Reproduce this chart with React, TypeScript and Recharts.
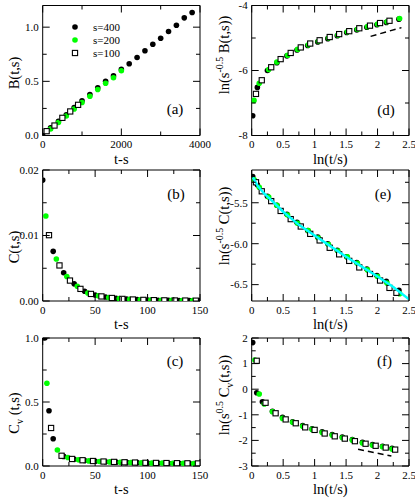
import React from 'react';
import { ComposedChart, Scatter, XAxis, YAxis, ReferenceArea, Legend } from 'recharts';

const FONT = '"Liberation Serif", "Times New Roman", serif';
const PAGE_W = 415;
const PAGE_H = 501;
const GREEN = '#00ff00';
const CYAN = '#00ffff';
const MAJOR = 7;
const MINOR = 4;

// ---------------- legend ----------------
const seriesLabels = ['s=400', 's=200', 's=100'];

// ---------------- panel (a): B(t,s) vs t-s ----------------
const aBlackX = [0, 200, 400, 600, 800, 1000, 1200, 1400, 1600, 1800, 2000, 2200, 2400, 2600, 2800, 3000, 3200, 3400, 3600, 3800];
const aBlackY = [0, 0.07, 0.13, 0.19, 0.258, 0.32, 0.378, 0.44, 0.5, 0.55, 0.61, 0.662, 0.72, 0.782, 0.843, 0.898, 0.96, 1.018, 1.086, 1.136];
const aGreenX = [200, 400, 600, 800, 1000, 1200, 1400, 1600, 1800, 2000];
const aGreenY = [0.06, 0.12, 0.18, 0.245, 0.305, 0.363, 0.425, 0.483, 0.533, 0.597];
const aSquareX = [100, 300, 500, 700, 900];
const aSquareY = [0.04, 0.092, 0.163, 0.222, 0.283];
const aXMajor = [0, 2000, 4000];
const aXMinor = [1000, 3000];
const aYMajor = [0, 0.5, 1.0];
const aYMinor = [0.25, 0.75];

// ---------------- panel (b): C(t,s) vs t-s ----------------
const bBlackX = [0, 10, 20, 30, 40, 50, 60, 70, 80, 90, 100, 110, 120, 130, 140, 150];
const bBlackY = [0.01846, 0.00758, 0.00431, 0.00262, 0.0015, 0.00092, 0.0006, 0.0004, 0.00029, 0.00021, 0.00016, 0.00012, 0.0001, 0.00008, 0.00007, 0.00006];
const bGreenX = [3, 13, 23, 33, 43, 53, 63, 73, 83, 93, 103, 113, 123, 133, 143];
const bGreenY = [0.01297, 0.00641, 0.00374, 0.00226, 0.00123, 0.0008, 0.00052, 0.00036, 0.00026, 0.00019, 0.00014, 0.00011, 0.00009, 0.00007, 0.00006];
const bSquareX = [6, 16, 26, 36, 46, 56, 66, 76, 86, 96, 106, 116, 126, 136, 146];
const bSquareY = [0.01005, 0.00543, 0.00312, 0.00185, 0.00108, 0.0007, 0.00046, 0.00032, 0.00023, 0.00017, 0.00013, 0.0001, 0.00008, 0.00007, 0.00005];
const tsXMajor = [0, 50, 100, 150];
const tsXMinor = [25, 75, 125];
const bYMajor = [0, 0.01, 0.02];
const bYMinor = [0.005, 0.015];

// ---------------- panel (c): Cv(t,s) vs t-s ----------------
const cBlackX = [2, 6, 10, 20, 30, 40, 50, 60, 70, 80, 90, 100, 110, 120, 130, 140, 150];
const cBlackY = [1.0, 0.432, 0.213, 0.075, 0.052, 0.043, 0.037, 0.033, 0.03, 0.028, 0.026, 0.024, 0.023, 0.022, 0.021, 0.02, 0.019];
const cGreenX = [4, 14, 24, 34, 44, 54, 64, 74, 84, 94, 104, 114, 124, 134, 144];
const cGreenY = [0.646, 0.125, 0.066, 0.048, 0.04, 0.035, 0.032, 0.029, 0.027, 0.025, 0.024, 0.023, 0.022, 0.021, 0.02];
const cSquareX = [8, 18, 28, 38, 48, 58, 68, 78, 88, 98, 108, 118, 128, 138, 148];
const cSquareY = [0.297, 0.08, 0.055, 0.045, 0.039, 0.035, 0.032, 0.029, 0.027, 0.025, 0.024, 0.023, 0.022, 0.021, 0.02];
const cYMajor = [0, 0.5, 1.0];
const cYMinor = [0.25, 0.75];

// ---------------- right column x axis: ln(t/s) ----------------
const lnXMajor = [0, 0.5, 1, 1.5, 2, 2.5];
const lnXMinor = [0.25, 0.75, 1.25, 1.75, 2.25];

// ---------------- panel (d) ----------------
const dBlackX = [0.016, 0.09, 0.25, 0.4, 0.56, 0.72, 0.89, 1.05, 1.21, 1.36, 1.51, 1.67, 1.83, 1.99, 2.14, 2.34];
const dBlackY = [-7.39, -6.52, -6.0, -5.76, -5.55, -5.37, -5.23, -5.12, -5.02, -4.93, -4.83, -4.75, -4.67, -4.59, -4.52, -4.42];
const dGreenX = [0.037, 0.12, 0.27, 0.4, 0.57, 0.73, 0.9, 1.06, 1.22, 1.37, 1.52, 1.68, 1.84, 2.0, 2.15, 2.35];
const dGreenY = [-6.92, -6.39, -5.97, -5.74, -5.53, -5.35, -5.21, -5.1, -5.0, -4.91, -4.81, -4.73, -4.65, -4.57, -4.5, -4.4];
const dSquareX = [0.068, 0.16, 0.31, 0.46, 0.62, 0.78, 0.93, 1.08, 1.24, 1.39, 1.55, 1.71, 1.88, 2.04, 2.19];
const dSquareY = [-6.72, -6.3, -5.9, -5.65, -5.46, -5.29, -5.17, -5.07, -4.97, -4.88, -4.79, -4.7, -4.62, -4.54, -4.47];
const dDashX = [1.89, 2.38];
const dDashY = [-4.95, -4.68];
const dYMajor = [-8, -6, -4];
const dYMinor = [-7, -5];

// ---------------- panel (e) ----------------
const eBlackX = [0.016, 0.09, 0.25, 0.4, 0.56, 0.72, 0.89, 1.05, 1.21, 1.36, 1.51, 1.67, 1.83, 1.99, 2.14, 2.34];
const eBlackY = [-5.18, -5.28, -5.42, -5.53, -5.64, -5.74, -5.84, -5.92, -6.0, -6.08, -6.16, -6.23, -6.31, -6.39, -6.46, -6.57];
const eGreenX = [0.04, 0.12, 0.27, 0.4, 0.57, 0.73, 0.9, 1.06, 1.22, 1.37, 1.52, 1.68, 1.84, 2.0, 2.15, 2.35];
const eGreenY = [-5.22, -5.31, -5.43, -5.53, -5.65, -5.75, -5.84, -5.93, -6.01, -6.09, -6.16, -6.24, -6.32, -6.4, -6.48, -6.61];
const eSquareX = [0.068, 0.16, 0.31, 0.46, 0.62, 0.78, 0.93, 1.08, 1.24, 1.39, 1.55, 1.71, 1.88, 2.04, 2.19, 2.3];
const eSquareY = [-5.25, -5.36, -5.48, -5.6, -5.7, -5.79, -5.88, -5.96, -6.05, -6.13, -6.21, -6.29, -6.37, -6.45, -6.54, -6.6];
const eFitX = [0.02, 0.1, 0.2, 0.3, 0.5, 0.75, 1.0, 1.25, 1.5, 1.75, 2.0, 2.25, 2.5];
const eFitY = [-5.19, -5.3, -5.39, -5.46, -5.61, -5.77, -5.9, -6.03, -6.16, -6.28, -6.4, -6.53, -6.68];
const eYMajor = [-6.5, -6.0, -5.5];
const eYMinor = [-6.25, -5.75, -5.25];

// ---------------- panel (f) ----------------
const fBlackX = [0.016, 0.08, 0.17, 0.33, 0.49, 0.65, 0.81, 0.96, 1.12, 1.28, 1.44, 1.6, 1.76, 1.92, 2.08, 2.23];
const fBlackY = [1.82, -0.14, -0.49, -0.86, -1.1, -1.27, -1.42, -1.55, -1.66, -1.77, -1.87, -1.97, -2.07, -2.16, -2.23, -2.31];
const fGreenX = [0.05, 0.12, 0.2, 0.33, 0.49, 0.65, 0.81, 0.96, 1.12, 1.28, 1.44, 1.6, 1.76, 1.92, 2.08, 2.23];
const fGreenY = [1.14, -0.19, -0.58, -0.88, -1.14, -1.29, -1.45, -1.57, -1.69, -1.8, -1.9, -1.99, -2.1, -2.19, -2.25, -2.34];
const fSquareX = [0.08, 0.22, 0.38, 0.54, 0.7, 0.85, 1.0, 1.16, 1.32, 1.48, 1.64, 1.81, 1.97, 2.13, 2.28];
const fSquareY = [1.11, -0.53, -0.94, -1.18, -1.33, -1.49, -1.59, -1.73, -1.84, -1.93, -2.03, -2.13, -2.21, -2.28, -2.36];
const fDashX = [1.69, 2.22];
const fDashY = [-2.35, -2.61];
const fYMajor = [-3, -2, -1, 0, 1, 2];
const fYMinor = [-2.5, -1.5, -0.5, 0.5, 1.5];

const pts = (xs: number[], ys: number[]) => xs.map((x, i) => ({ x, y: ys[i] }));

// ---------------- layout ----------------
type Rect = { l: number; t: number; r: number; b: number };
const COL_L = [42.7, 251.7];
const COL_R = [200, 409];
const ROW_T = [5.5, 170, 338];
const ROW_B = [135.5, 301, 466];
const rectOf = (col: number, row: number): Rect => ({ l: COL_L[col], r: COL_R[col], t: ROW_T[row], b: ROW_B[row] });
const AX = 1; // tiny axis thickness (axes with 0 size are not drawn)

const isIn = (arr: number[], v: number) => arr.some((m) => Math.abs(m - v) < 1e-9);

const BlackDot = (p: any) => <circle cx={p.cx} cy={p.cy} r={2.8} fill="#000" />;
const GreenDot = (p: any) => <circle cx={p.cx} cy={p.cy} r={2.8} fill={GREEN} />;
const OpenSquare = (p: any) => (
  <rect x={p.cx - 2.6} y={p.cy - 2.6} width={5.2} height={5.2} fill="#fff" stroke="#000" strokeWidth={1.1} />
);
const NoShape = () => <g />;

function makeXTick(rect: Rect, major: number[], fmt: (v: number) => string) {
  return (props: any) => {
    const { x, payload } = props;
    const v = payload.value;
    const mj = isIn(major, v);
    const len = mj ? MAJOR : MINOR;
    return (
      <g>
        <line x1={x} x2={x} y1={rect.b} y2={rect.b - len} stroke="#000" strokeWidth={1} />
        <line x1={x} x2={x} y1={rect.t} y2={rect.t + len} stroke="#000" strokeWidth={1} />
        {mj && (
          <text x={x} y={rect.b + 12.5} textAnchor="middle" fontSize={11} fontFamily={FONT} fill="#000">
            {fmt(v)}
          </text>
        )}
      </g>
    );
  };
}

function makeYTick(rect: Rect, major: number[], fmt: (v: number) => string) {
  return (props: any) => {
    const { y, payload } = props;
    const v = payload.value;
    const mj = isIn(major, v);
    const len = mj ? MAJOR : MINOR;
    return (
      <g>
        <line x1={rect.l} x2={rect.l + len} y1={y} y2={y} stroke="#000" strokeWidth={1} />
        <line x1={rect.r} x2={rect.r - len} y1={y} y2={y} stroke="#000" strokeWidth={1} />
        {mj && (
          <text x={rect.l - 4} y={y} dy="0.35em" textAnchor="end" fontSize={11} fontFamily={FONT} fill="#000">
            {fmt(v)}
          </text>
        )}
      </g>
    );
  };
}

type PanelProps = {
  rect: Rect;
  xDomain: [number, number];
  yDomain: [number, number];
  xMajor: number[];
  xMinor: number[];
  yMajor: number[];
  yMinor: number[];
  xFmt: (v: number) => string;
  yFmt: (v: number) => string;
  children?: React.ReactNode;
};

function Panel({ rect, xDomain, yDomain, xMajor, xMinor, yMajor, yMinor, xFmt, yFmt, children }: PanelProps) {
  const xTicks = [...xMajor, ...xMinor].sort((a, b) => a - b);
  const yTicks = [...yMajor, ...yMinor].sort((a, b) => a - b);
  return (
    <div style={{ position: 'absolute', left: 0, top: 0 }}>
      <ComposedChart
        width={PAGE_W}
        height={PAGE_H}
        margin={{ left: rect.l - AX, top: rect.t, right: PAGE_W - rect.r, bottom: PAGE_H - rect.b - AX }}
      >
        <XAxis
          xAxisId="x"
          type="number"
          dataKey="x"
          domain={xDomain}
          ticks={xTicks}
          interval={0}
          height={AX}
          axisLine={false}
          tickLine={false}
          allowDataOverflow
          tick={makeXTick(rect, xMajor, xFmt)}
        />
        <YAxis
          yAxisId="y"
          type="number"
          dataKey="y"
          domain={yDomain}
          ticks={yTicks}
          interval={0}
          width={AX}
          axisLine={false}
          tickLine={false}
          allowDataOverflow
          tick={makeYTick(rect, yMajor, yFmt)}
        />
        <ReferenceArea
          xAxisId="x"
          yAxisId="y"
          x1={xDomain[0]}
          x2={xDomain[1]}
          y1={yDomain[0]}
          y2={yDomain[1]}
          fill="none"
          fillOpacity={0}
          stroke="#000"
          strokeWidth={1}
          ifOverflow="visible"
        />
        {children}
      </ComposedChart>
    </div>
  );
}

const LegendBox = () => (
  <svg width={90} height={46} style={{ overflow: 'visible' }}>
    {seriesLabels.map((lab, i) => {
      const cy = 7 + i * 13;
      return (
        <g key={lab}>
          {i === 0 && <circle cx={7} cy={cy} r={2.8} fill="#000" />}
          {i === 1 && <circle cx={7} cy={cy} r={2.8} fill={GREEN} />}
          {i === 2 && <rect x={4.4} y={cy - 2.6} width={5.2} height={5.2} fill="#fff" stroke="#000" strokeWidth={1.1} />}
          <text x={25} y={cy + 4} fontSize={11} fontFamily={FONT} fill="#000">
            {lab}
          </text>
        </g>
      );
    })}
  </svg>
);

const fmt1 = (v: number) => v.toFixed(1);
const fmt2 = (v: number) => v.toFixed(2);
const fmtInt = (v: number) => String(v);

function threeSeries(black: any[], green: any[], square: any[]) {
  return [
    <Scatter key="k" name="s=400" data={black} xAxisId="x" yAxisId="y" shape={BlackDot} isAnimationActive={false} />,
    <Scatter key="g" name="s=200" data={green} xAxisId="x" yAxisId="y" shape={GreenDot} isAnimationActive={false} />,
    <Scatter key="s" name="s=100" data={square} xAxisId="x" yAxisId="y" shape={OpenSquare} isAnimationActive={false} />,
  ];
}

const Titles = () => {
  const tStyle = { fontFamily: FONT, fontSize: 14.5, fill: '#000' } as const;
  const pStyle = { fontFamily: FONT, fontSize: 15, fill: '#000' } as const;
  const xl = (COL_L[0] + COL_R[0]) / 2;
  const xr = (COL_L[1] + COL_R[1]) / 2;
  const panelLabels = [
    { s: '(a)', x: 175, y: 113.5 },
    { s: '(b)', x: 176, y: 199 },
    { s: '(c)', x: 175, y: 366 },
    { s: '(d)', x: 386, y: 115 },
    { s: '(e)', x: 383, y: 199 },
    { s: '(f)', x: 384.5, y: 366 },
  ];
  return (
    <svg width={PAGE_W} height={PAGE_H} style={{ position: 'absolute', left: 0, top: 0, pointerEvents: 'none' }}>
      {ROW_B.map((b, i) => (
        <g key={i}>
          <text x={xl} y={b + 28} textAnchor="middle" {...tStyle}>t-s</text>
          <text x={xr} y={b + 28} textAnchor="middle" {...tStyle}>ln(t/s)</text>
        </g>
      ))}
      <text transform="rotate(-90, 19, 73)" x={19} y={73} textAnchor="middle" {...tStyle}>B(t,s)</text>
      <text transform="rotate(-90, 19, 247)" x={19} y={247} textAnchor="middle" {...tStyle}>C(t,s)</text>
      <text transform="rotate(-90, 19, 413)" x={19} y={413} textAnchor="middle" {...tStyle}>
        C<tspan dy={4} fontSize={10}>v</tspan>
        <tspan dy={-4}> (t,s)</tspan>
      </text>
      <text transform="rotate(-90, 229, 55)" x={229} y={55} textAnchor="middle" {...tStyle}>
        ln(s<tspan dy={-6} fontSize={10}>-0.5</tspan>
        <tspan dy={6}> B(t,s))</tspan>
      </text>
      <text transform="rotate(-90, 229, 226)" x={229} y={226} textAnchor="middle" {...tStyle}>
        ln(s<tspan dy={-6} fontSize={10}>-0.5</tspan>
        <tspan dy={6}> C(t,s))</tspan>
      </text>
      <text transform="rotate(-90, 229, 395)" x={229} y={395} textAnchor="middle" {...tStyle}>
        ln(s<tspan dy={-6} fontSize={10}>0.5</tspan>
        <tspan dy={6}> C</tspan>
        <tspan dy={4} fontSize={10}>v</tspan>
        <tspan dy={-4}>(t,s))</tspan>
      </text>
      {panelLabels.map((p) => (
        <text key={p.s} x={p.x} y={p.y} textAnchor="middle" {...pStyle}>{p.s}</text>
      ))}
    </svg>
  );
};

export default function App() {
  return (
    <div style={{ position: 'absolute', left: 0, top: 0, width: PAGE_W, height: PAGE_H, background: '#fff', overflow: 'hidden' }}>
      {/* (a) */}
      <Panel rect={rectOf(0, 0)} xDomain={[0, 4000]} yDomain={[0, 1.2]} xMajor={aXMajor} xMinor={aXMinor} yMajor={aYMajor} yMinor={aYMinor} xFmt={fmtInt} yFmt={fmt1}>
        {threeSeries(pts(aBlackX, aBlackY), pts(aGreenX, aGreenY), pts(aSquareX, aSquareY))}
        <Legend
          layout="vertical"
          align="center"
          verticalAlign="middle"
          content={() => <LegendBox />}
          wrapperStyle={{ left: 68, top: 20, width: 90, height: 46, right: 'auto', bottom: 'auto' }}
        />
      </Panel>
      {/* (b) */}
      <Panel rect={rectOf(0, 1)} xDomain={[0, 150]} yDomain={[0, 0.02]} xMajor={tsXMajor} xMinor={tsXMinor} yMajor={bYMajor} yMinor={bYMinor} xFmt={fmtInt} yFmt={fmt2}>
        {threeSeries(pts(bBlackX, bBlackY), pts(bGreenX, bGreenY), pts(bSquareX, bSquareY))}
      </Panel>
      {/* (c) */}
      <Panel rect={rectOf(0, 2)} xDomain={[0, 150]} yDomain={[0, 1.0]} xMajor={tsXMajor} xMinor={tsXMinor} yMajor={cYMajor} yMinor={cYMinor} xFmt={fmtInt} yFmt={fmt1}>
        {threeSeries(pts(cBlackX, cBlackY), pts(cGreenX, cGreenY), pts(cSquareX, cSquareY))}
      </Panel>
      {/* (d) */}
      <Panel rect={rectOf(1, 0)} xDomain={[0, 2.5]} yDomain={[-8, -4]} xMajor={lnXMajor} xMinor={lnXMinor} yMajor={dYMajor} yMinor={dYMinor} xFmt={fmtInt} yFmt={fmtInt}>
        {threeSeries(pts(dBlackX, dBlackY), pts(dGreenX, dGreenY), pts(dSquareX, dSquareY))}
        <Scatter data={pts(dDashX, dDashY)} xAxisId="x" yAxisId="y" shape={NoShape} line={{ stroke: '#000', strokeWidth: 1.5, strokeDasharray: '6 4' }} isAnimationActive={false} />
      </Panel>
      {/* (e) */}
      <Panel rect={rectOf(1, 1)} xDomain={[0, 2.5]} yDomain={[-6.7, -5.1]} xMajor={lnXMajor} xMinor={lnXMinor} yMajor={eYMajor} yMinor={eYMinor} xFmt={fmtInt} yFmt={fmt1}>
        {threeSeries(pts(eBlackX, eBlackY), pts(eGreenX, eGreenY), pts(eSquareX, eSquareY))}
        <Scatter data={pts(eFitX, eFitY)} xAxisId="x" yAxisId="y" shape={NoShape} line={{ stroke: CYAN, strokeWidth: 2.5 }} isAnimationActive={false} />
      </Panel>
      {/* (f) */}
      <Panel rect={rectOf(1, 2)} xDomain={[0, 2.5]} yDomain={[-3, 2]} xMajor={lnXMajor} xMinor={lnXMinor} yMajor={fYMajor} yMinor={fYMinor} xFmt={fmtInt} yFmt={fmtInt}>
        {threeSeries(pts(fBlackX, fBlackY), pts(fGreenX, fGreenY), pts(fSquareX, fSquareY))}
        <Scatter data={pts(fDashX, fDashY)} xAxisId="x" yAxisId="y" shape={NoShape} line={{ stroke: '#000', strokeWidth: 1.5, strokeDasharray: '6 4' }} isAnimationActive={false} />
      </Panel>
      <Titles />
    </div>
  );
}
